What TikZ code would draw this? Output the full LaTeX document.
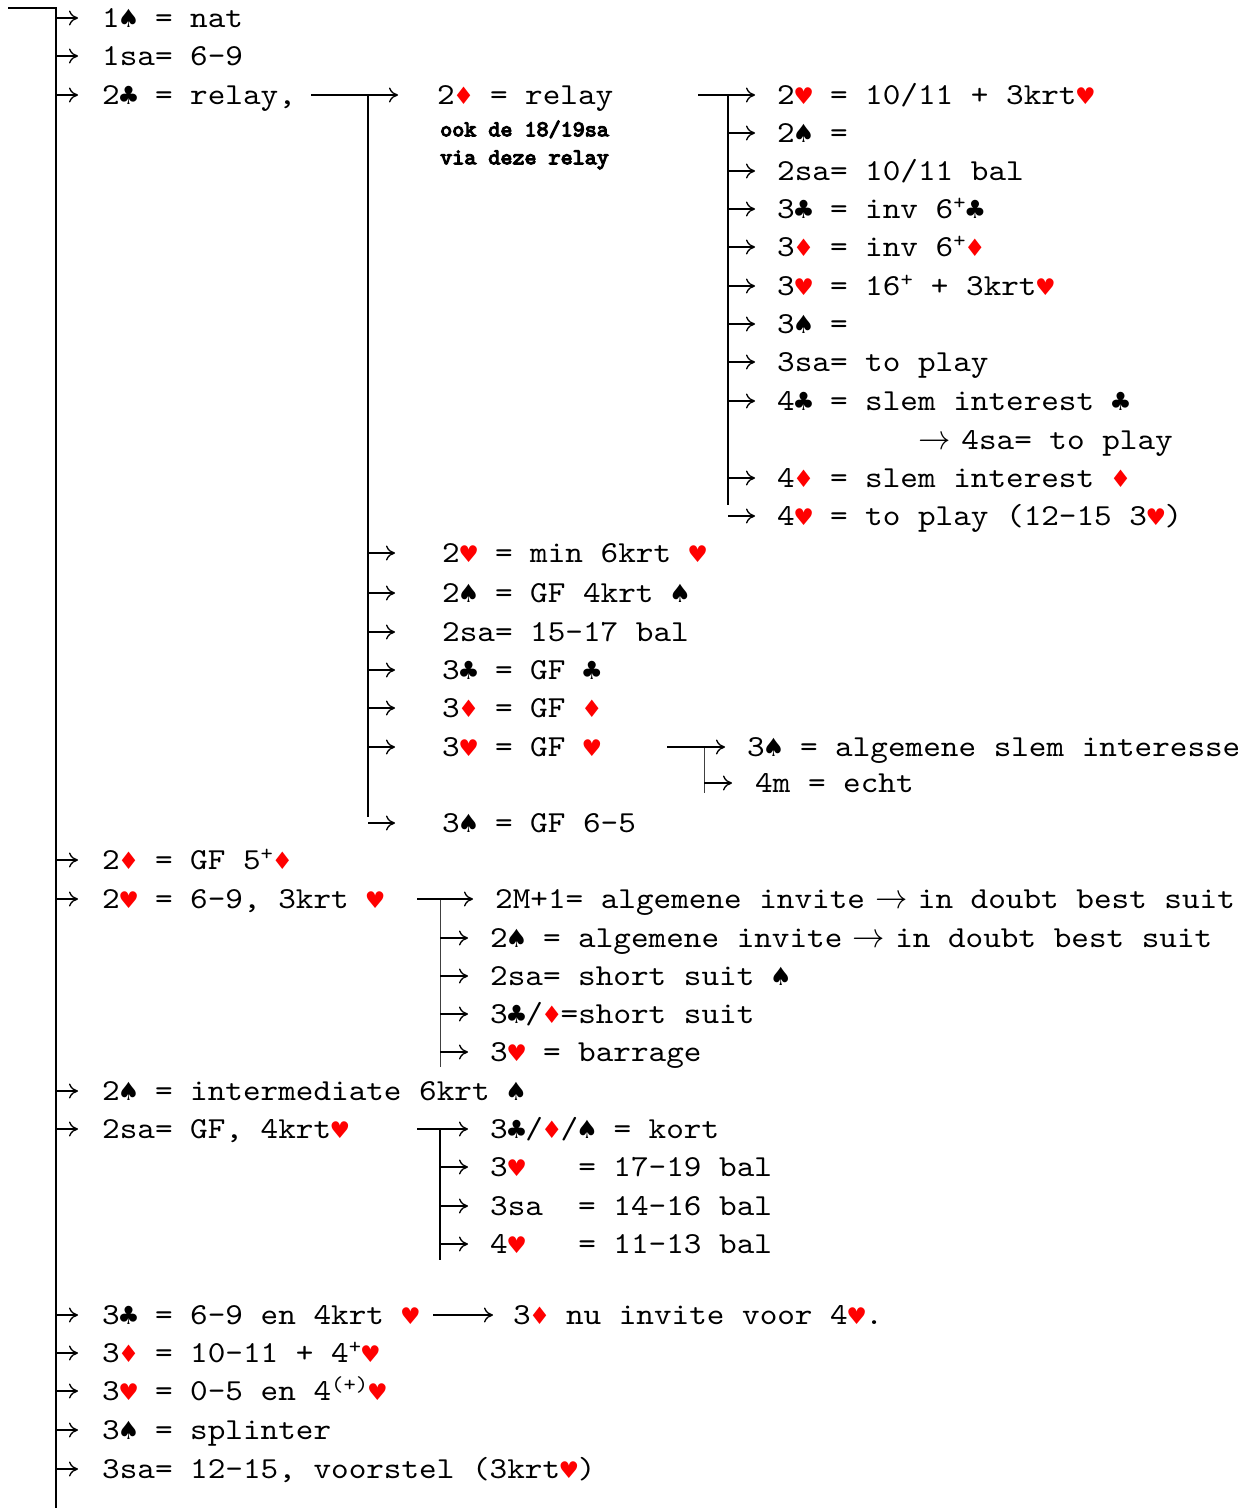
\documentclass[tikz,border=0pt]{standalone}
\usepackage{fontspec}
\setmonofont{lmmono10-regular.otf}[FakeStretch=1.1]
\newfontfamily\vetfont{lmmono10-regular.otf}[FakeStretch=1.02,FakeBold=5]
\newfontfamily\kaartfont{DejaVu Sans}
\usetikzlibrary{arrows.meta}
\definecolor{kaartrood}{RGB}{255,0,0}
% symboles des couleurs
\newcommand{\pique}{\makebox[0.5775em][c]{\kaartfont\fontsize{25}{25}\selectfont ♠}}
\newcommand{\trefle}{\makebox[0.5775em][c]{\kaartfont\fontsize{25}{25}\selectfont ♣}}
\newcommand{\coeur}{\makebox[0.5775em][c]{\color{kaartrood}\kaartfont\fontsize{23}{23}\selectfont ♥}}
\newcommand{\carreau}{\makebox[0.5775em][c]{\color{kaartrood}\kaartfont\fontsize{24}{24}\selectfont ♦}}
\newcommand{\pijl}{\makebox[0.5775em][c]{\scalebox{1.3}[1.4]{$\rightarrow$}}}
\tikzset{
  tekst/.style={anchor=west, inner sep=0pt, text height=18.6pt, text depth=0pt,
    font=\ttfamily\fontsize{30.5}{36}\selectfont},
  noot/.style={anchor=west, inner sep=0pt, align=left,
    font=\vetfont\fontsize{22.5}{28}\selectfont},
  lijn/.style={line width=1.7pt},
  dunlijn/.style={line width=1pt, black!75},
  pijl/.style={-{Computer Modern Rightarrow[length=9pt,width=15pt]}, line width=1.3pt, shorten >=#1},
  pijl/.default=22pt
}
\begin{document}
\begin{tikzpicture}[x=1pt,y=-1pt]
    \useasboundingbox (0,0) rectangle (1256,1508);
    % tronc principal
    \coordinate (begin) at (8,8);
    \coordinate (stam) at (56,8);
    \coordinate (stameind) at (56,1508);
    \draw[lijn] (begin) -- (stam) -- (stameind);
    \node[tekst] (m1) at (102,18) {1\pique{} = nat};
    \node[tekst] (m2) at (102,56) {1sa= 6-9};
    \node[tekst] (m3) at (102,95) {2\trefle{} = relay,};
    \node[tekst] (m4) at (102,860) {2\carreau{} = GF 5\textsuperscript{+}\carreau};
    \node[tekst] (m5) at (102,899) {2\coeur{} = 6-9, 3krt \coeur};
    \node[tekst] (m6) at (102,1091) {2\pique{} = intermediate 6krt \pique};
    \node[tekst] (m7) at (102,1129) {2sa= GF, 4krt\coeur};
    \node[tekst] (m8) at (102,1315) {3\trefle{} = 6-9 en 4krt \coeur};
    \node[tekst] (m9) at (102,1353) {3\carreau{} = 10-11 + 4\textsuperscript{+}\coeur};
    \node[tekst] (m10) at (102,1391) {3\coeur{} = 0-5 en 4\textsuperscript{(+)}\coeur};
    \node[tekst] (m11) at (102,1430) {3\pique{} = splinter};
    \node[tekst] (m12) at (102,1469) {3sa= 12-15, voorstel (3krt\coeur)};
    \draw[pijl=24pt] (stam |- m1.west) -- (m1.west);
    \draw[pijl=24pt] (stam |- m2.west) -- (m2.west);
    \draw[pijl=24pt] (stam |- m3.west) -- (m3.west);
    \draw[pijl=24pt] (stam |- m4.west) -- (m4.west);
    \draw[pijl=24pt] (stam |- m5.west) -- (m5.west);
    \draw[pijl=24pt] (stam |- m6.west) -- (m6.west);
    \draw[pijl=24pt] (stam |- m7.west) -- (m7.west);
    \draw[pijl=24pt] (stam |- m8.west) -- (m8.west);
    \draw[pijl=24pt] (stam |- m9.west) -- (m9.west);
    \draw[pijl=24pt] (stam |- m10.west) -- (m10.west);
    \draw[pijl=24pt] (stam |- m11.west) -- (m11.west);
    \draw[pijl=24pt] (stam |- m12.west) -- (m12.west);

    % branche 2 trefle relay
    \coordinate (relay) at (311,95);
    \coordinate (relaystam) at (368,95);
    \coordinate (relayeind) at (368,817);
    \draw[lijn] (relaystam) -- (relayeind);
    \node[tekst] (r0) at (437,95) {2\carreau{} = relay};
    \node[noot] (noot) at (440,145) {ook de 18/19sa\\via deze relay};
    \node[tekst] (r1) at (442,553) {2\coeur{} = min 6krt \coeur};
    \node[tekst] (r2) at (442,593) {2\pique{} = GF 4krt \pique};
    \node[tekst] (r3) at (442,632) {2sa= 15-17 bal};
    \node[tekst] (r4) at (442,670) {3\trefle{} = GF \trefle};
    \node[tekst] (r5) at (442,708) {3\carreau{} = GF \carreau};
    \node[tekst] (r6) at (442,747) {3\coeur{} = GF \coeur};
    \node[tekst] (r7) at (442,823) {3\pique{} = GF 6-5};
    \draw[pijl=39pt] (relay) -- (r0.west);
    \draw[pijl=47pt] (relaystam |- r1.west) -- (r1.west);
    \draw[pijl=47pt] (relaystam |- r2.west) -- (r2.west);
    \draw[pijl=47pt] (relaystam |- r3.west) -- (r3.west);
    \draw[pijl=47pt] (relaystam |- r4.west) -- (r4.west);
    \draw[pijl=47pt] (relaystam |- r5.west) -- (r5.west);
    \draw[pijl=47pt] (relaystam |- r6.west) -- (r6.west);
    \draw[pijl=47pt] (relaystam |- r7.west) -- (r7.west);

    % reponses sur 2 carreau
    \coordinate (antw) at (698,95);
    \coordinate (antwstam) at (728,95);
    \coordinate (antweind) at (728,505);
    \draw[lijn] (antwstam) -- (antweind);
    \node[tekst] (s1) at (777,95) {2\coeur{} = 10/11 + 3krt\coeur};
    \node[tekst] (s2) at (777,133) {2\pique{} =};
    \node[tekst] (s3) at (777,171) {2sa= 10/11 bal};
    \node[tekst] (s4) at (777,209) {3\trefle{} = inv 6\textsuperscript{+}\trefle};
    \node[tekst] (s5) at (777,247) {3\carreau{} = inv 6\textsuperscript{+}\carreau};
    \node[tekst] (s6) at (777,286) {3\coeur{} = 16\textsuperscript{+} + 3krt\coeur};
    \node[tekst] (s7) at (777,324) {3\pique{} =};
    \node[tekst] (s8) at (777,362) {3sa= to play};
    \node[tekst] (s9) at (777,401) {4\trefle{} = slem interest \trefle};
    \node[tekst] (s10) at (926,440) {\pijl\ 4sa= to play};
    \node[tekst] (s11) at (777,478) {4\carreau{} = slem interest \carreau};
    \node[tekst] (s12) at (777,516) {4\coeur{} = to play (12-15 3\coeur)};
    \draw[pijl] (antw) -- (s1.west);
    \draw[pijl] (antwstam |- s2.west) -- (s2.west);
    \draw[pijl] (antwstam |- s3.west) -- (s3.west);
    \draw[pijl] (antwstam |- s4.west) -- (s4.west);
    \draw[pijl] (antwstam |- s5.west) -- (s5.west);
    \draw[pijl] (antwstam |- s6.west) -- (s6.west);
    \draw[pijl] (antwstam |- s7.west) -- (s7.west);
    \draw[pijl] (antwstam |- s8.west) -- (s8.west);
    \draw[pijl] (antwstam |- s9.west) -- (s9.west);
    \draw[pijl] (antwstam |- s11.west) -- (s11.west);
    \draw[pijl] (antwstam |- s12.west) -- (s12.west);

    % apres 3 coeur GF
    \coordinate (gfh) at (667,747);
    \coordinate (gfhstam) at (704,747);
    \coordinate (gfheind) at (704,793);
    \draw[dunlijn] (gfhstam) -- (gfheind);
    \node[tekst] (t1) at (747,747) {3\pique{} = algemene slem interesse};
    \node[tekst] (t2) at (755,783) {4m = echt};
    \draw[pijl] (gfh) -- (t1.west);
    \draw[pijl=23pt] (gfhstam |- t2.west) -- (t2.west);

    % branche 2 coeur
    \coordinate (harten) at (417,899);
    \coordinate (hartenstam) at (440,899);
    \coordinate (harteneind) at (440,1067);
    \draw[dunlijn] (hartenstam) -- (harteneind);
    \node[tekst] (u1) at (495,899) {2M+1= algemene invite \pijl{} in doubt best suit};
    \node[tekst] (u2) at (490,938) {2\pique{} = algemene invite \pijl{} in doubt best suit};
    \node[tekst] (u3) at (490,976) {2sa= short suit \pique};
    \node[tekst] (u4) at (490,1014) {3\trefle/\carreau=short suit};
    \node[tekst] (u5) at (490,1052) {3\coeur{} = barrage};
    \draw[pijl] (harten) -- (u1.west);
    \draw[pijl] (hartenstam |- u2.west) -- (u2.west);
    \draw[pijl] (hartenstam |- u3.west) -- (u3.west);
    \draw[pijl] (hartenstam |- u4.west) -- (u4.west);
    \draw[pijl] (hartenstam |- u5.west) -- (u5.west);

    % branche 2sa
    \coordinate (sa) at (417,1129);
    \coordinate (sastam) at (440,1129);
    \coordinate (saeind) at (440,1260);
    \draw[lijn] (sastam) -- (saeind);
    \node[tekst] (v1) at (490,1129) {3\trefle/\carreau/\pique{} = kort};
    \node[tekst] (v2) at (490,1167) {3\coeur{}~~~= 17-19 bal};
    \node[tekst] (v3) at (490,1206) {3sa~~= 14-16 bal};
    \node[tekst] (v4) at (490,1244) {4\coeur{}~~~= 11-13 bal};
    \draw[pijl] (sa) -- (v1.west);
    \draw[pijl] (sastam |- v2.west) -- (v2.west);
    \draw[pijl] (sastam |- v3.west) -- (v3.west);
    \draw[pijl] (sastam |- v4.west) -- (v4.west);

    % suite de 3 trefle
    \coordinate (klaver) at (433,1315);
    \node[tekst] (w1) at (513,1315) {3\carreau{} nu invite voor 4\coeur.};
    \draw[pijl=20pt] (klaver) -- (w1.west);
\end{tikzpicture}
\end{document}
